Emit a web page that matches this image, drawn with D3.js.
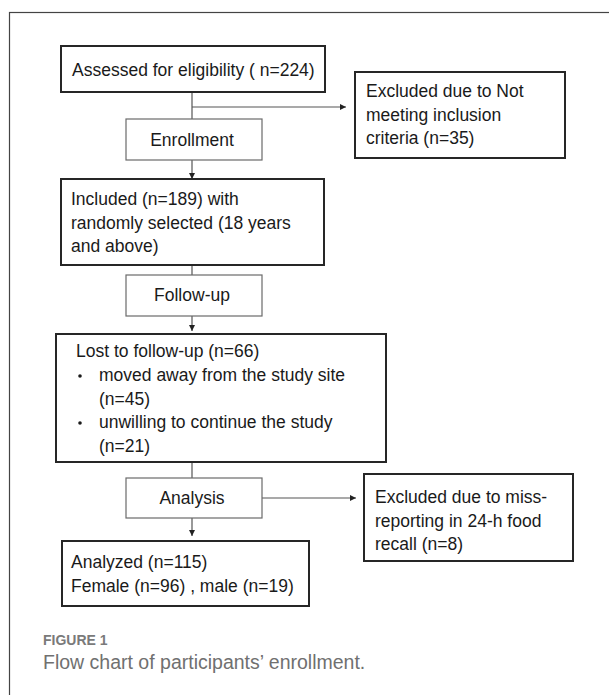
<!DOCTYPE html>
<html>
<head>
<meta charset="utf-8">
<script src="https://cdn.jsdelivr.net/npm/d3@7"></script>
<style>
  body { margin: 0; background: #fff; }
  svg { display: block; }
</style>
</head>
<body>
<svg width="609" height="695" viewBox="0 0 609 695"></svg>
<script>
// text for every box of the flow chart
var assessedLines = ["Assessed for eligibility ( n=224)"];
var excludedLines = ["Excluded due to Not", "meeting inclusion", "criteria (n=35)"];
var includedLines = ["Included (n=189) with", "randomly selected (18 years", "and above)"];
var lostLines = ["Lost to follow-up (n=66)"];
var lostBullets = [["moved away from the study site", "(n=45)"], ["unwilling to continue the study", "(n=21)"]];
var missLines = ["Excluded due to miss-", "reporting in 24-h food", "recall (n=8)"];
var analyzedLines = ["Analyzed (n=115)", "Female (n=96) , male (n=19)"];
var stageLabels = ["Enrollment", "Follow-up", "Analysis"];
var figLabel = "FIGURE 1";
var figCaption = "Flow chart of participants\u2019 enrollment.";

var svg = d3.select("svg");
var font = "'Liberation Sans', Arial, sans-serif";
var lineH = 23.5;
var cx = 192; // main vertical axis of the chart

// outer panel frame
svg.append("rect")
  .attr("x", 9.5).attr("y", 12.5)
  .attr("width", 640).attr("height", 720)
  .attr("fill", "none").attr("stroke", "#444").attr("stroke-width", 1.2);

// arrow head
svg.append("defs").append("marker")
  .attr("id", "arr")
  .attr("viewBox", "0 0 10 10")
  .attr("refX", 10).attr("refY", 5)
  .attr("markerWidth", 6).attr("markerHeight", 6)
  .attr("markerUnits", "userSpaceOnUse")
  .attr("orient", "auto")
  .append("path").attr("d", "M0,0 L10,5 L0,10 Z").attr("fill", "#222");

function box(x, y, w, h, thick) {
  svg.append("rect")
    .attr("x", x).attr("y", y).attr("width", w).attr("height", h)
    .attr("fill", "#fff")
    .attr("stroke", thick ? "#262626" : "#6a6a6a")
    .attr("stroke-width", thick ? 2 : 1.2);
}

function lines(arr, x, y0, anchor) {
  var t = svg.append("text")
    .attr("font-family", font).attr("font-size", 17.5)
    .attr("fill", "#1a1a1a")
    .attr("text-anchor", anchor || "start");
  t.selectAll("tspan").data(arr).join("tspan")
    .attr("x", x)
    .attr("y", function(d, i) { return y0 + i * lineH; })
    .text(function(d) { return d; });
}

function link(x1, y1, x2, y2, arrow) {
  var l = svg.append("line")
    .attr("x1", x1).attr("y1", y1).attr("x2", x2).attr("y2", y2)
    .attr("stroke", "#555").attr("stroke-width", 1.2);
  if (arrow) l.attr("marker-end", "url(#arr)");
}

// connectors first so boxes sit on top
link(cx, 92, cx, 119);
link(cx, 107, 346, 107, true);
link(cx, 160, cx, 179, true);
link(cx, 265, cx, 275);
link(cx, 316, cx, 331, true);
link(cx, 462, cx, 478);
link(262, 498, 356, 498, true);
link(cx, 518, cx, 536, true);

// main boxes
box(61, 46, 264, 46, true);
lines(assessedLines, 72, 76);

box(355, 72, 210, 86, true);
lines(excludedLines, 366, 97);

box(126, 119, 136, 41, false);
lines([stageLabels[0]], cx, 146, "middle");

box(61, 179, 263, 86, true);
lines(includedLines, 71, 205);

box(126, 275, 136, 41, false);
lines([stageLabels[1]], cx, 301, "middle");

box(56, 334, 330, 128, true);
lines(lostLines, 76, 357);
lostBullets.forEach(function(b, i) {
  var y = 381 + i * 2 * lineH;
  svg.append("circle").attr("cx", 80).attr("cy", y - 5).attr("r", 1.8).attr("fill", "#1a1a1a");
  lines(b, 99, y);
});

box(126, 478, 136, 40, false);
lines([stageLabels[2]], cx, 504, "middle");

box(364, 474, 209, 87, true);
lines(missLines, 375, 503);

box(62, 541, 247, 65, true);
lines(analyzedLines, 71, 568);

// caption
svg.append("text")
  .attr("x", 43).attr("y", 645)
  .attr("font-family", font).attr("font-size", 14).attr("font-weight", "bold")
  .attr("fill", "#7a7a7a")
  .text(figLabel);
svg.append("text")
  .attr("x", 43).attr("y", 669)
  .attr("font-family", font).attr("font-size", 19.5)
  .attr("fill", "#707070")
  .text(figCaption);
</script>
</body>
</html>
